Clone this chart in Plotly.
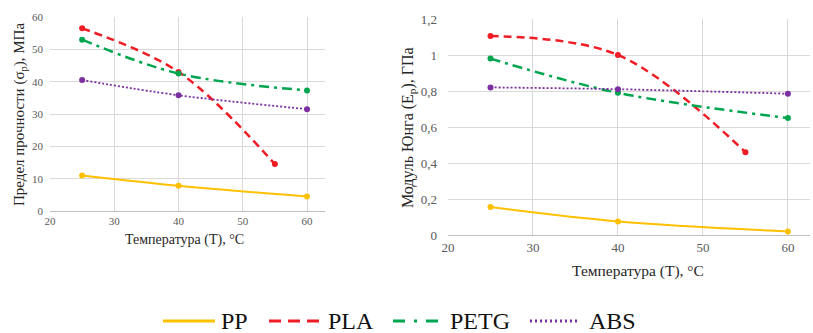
import plotly.graph_objects as go

temps_pp = [25, 40, 60]
temps_pla = [25, 40, 55]
temps_petg = [25, 40, 60]
temps_abs = [25, 40, 60]

strength_pp = [11.0, 7.8, 4.5]
strength_pla = [56.5, 43.0, 14.5]
strength_petg = [53.0, 42.5, 37.3]
strength_abs = [40.5, 35.8, 31.5]

modulus_pp = [0.155, 0.075, 0.02]
modulus_pla = [1.105, 1.0, 0.46]
modulus_petg = [0.98, 0.79, 0.65]
modulus_abs = [0.82, 0.81, 0.785]

names = ["PP", "PLA", "PETG", "ABS"]
colors = ["#FFC000", "#EE1C25", "#00A550", "#7B2FA0"]
dashes = ["solid", "8px,5px", "10px,5px,3px,5px", "2px,2px"]
widths = [2, 2.5, 2.5, 1.8]

SERIF = "Liberation Serif, Times New Roman, serif"
W, H = 813, 333
fig = go.Figure()

left = [(temps_pp, strength_pp), (temps_pla, strength_pla), (temps_petg, strength_petg), (temps_abs, strength_abs)]
right = [(temps_pp, modulus_pp), (temps_pla, modulus_pla), (temps_petg, modulus_petg), (temps_abs, modulus_abs)]

for i in range(4):
    for (xs, ys), xa, ya in [(left[i], "x", "y"), (right[i], "x2", "y2")]:
        fig.add_trace(go.Scatter(
            x=xs, y=ys, xaxis=xa, yaxis=ya, mode="lines+markers", name=names[i],
            line=dict(color=colors[i], dash=dashes[i], width=widths[i], shape="spline"),
            marker=dict(color=colors[i], size=6), showlegend=False, cliponaxis=False,
            hoverinfo="skip"))

def px_x(p):
    return p / W

def px_y(p):
    return 1 - p / H

grid = "#D9D9D9"
tickfont = dict(family=SERIF, size=11, color="#595959")
tickfont2 = dict(family=SERIF, size=13, color="#595959")
common = dict(showgrid=True, gridcolor=grid, gridwidth=1, zeroline=False,
              ticks="", fixedrange=True)

fig.update_layout(
    width=W, height=H, margin=dict(l=0, r=0, t=0, b=0, autoexpand=False),
    paper_bgcolor="white", plot_bgcolor="white",
    separators=", ", showlegend=False, hovermode=False,
    font=dict(family=SERIF, color="#262626"),
    xaxis=dict(domain=[px_x(50), px_x(325)], range=[20, 62.8], dtick=10, anchor="y",
               showline=True, linecolor="#BFBFBF", tickfont=tickfont, **common),
    yaxis=dict(domain=[px_y(211), px_y(17)], range=[0, 60], dtick=10, anchor="x",
               showline=False, tickfont=tickfont, ticklabelstandoff=6, **common),
    xaxis2=dict(domain=[px_x(448), px_x(810)], range=[20, 62.6], dtick=10, anchor="y2",
                showline=True, linecolor="#BFBFBF", tickfont=tickfont2, **common),
    yaxis2=dict(domain=[px_y(235), px_y(19)], range=[0, 1.2], dtick=0.2, anchor="x2",
                showline=False, ticklabelstandoff=10, tickfont=tickfont2, **common),
)

def title(x, y, text, size, angle=0):
    fig.add_annotation(x=px_x(x), y=px_y(y), xref="paper", yref="paper",
                       xanchor="center", yanchor="middle", text=text, showarrow=False,
                       textangle=angle, font=dict(family=SERIF, size=size, color="#262626"))

title(184, 240, "Температура (T), °C", 14)
title(20, 115, "Предел прочности (σ<sub>р</sub>), МПа", 15, -90)
title(638, 271, "Температура (T), °C", 15.5)
title(409, 127, "Модуль Юнга (E<sub>р</sub>), ГПа", 16, -90)

# legend (drawn manually to match the reference spacing)
leg_lines = [(163, 215), (269, 321), (393, 439), (530, 578)]
leg_text_x = [219, 326, 448, 587]
leg_dash = ["solid", "12px,7px", "12px,9px,3px,9px", "2px,3px"]
leg_y = 321
for i in range(4):
    x0, x1 = leg_lines[i]
    fig.add_shape(type="line", xref="paper", yref="paper",
                  x0=px_x(x0), x1=px_x(x1), y0=px_y(leg_y), y1=px_y(leg_y),
                  line=dict(color=colors[i], width=3, dash=leg_dash[i]))
    fig.add_annotation(x=px_x(leg_text_x[i]), y=px_y(leg_y), xref="paper", yref="paper",
                       xanchor="left", yanchor="middle", text=names[i], showarrow=False,
                       font=dict(family=SERIF, size=24, color="#111111"))

fig.write_html("out.html", config={"displayModeBar": False, "staticPlot": True},
               post_script="document.body.style.margin='0';document.body.style.overflow='hidden';")
